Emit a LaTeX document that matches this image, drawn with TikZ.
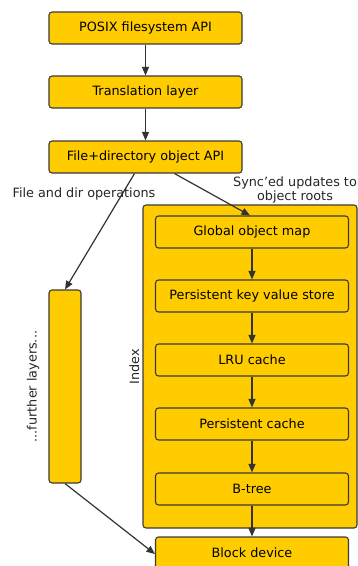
\documentclass[tikz,border=0pt]{standalone}
\usepackage{fontspec}
\setmainfont{DejaVu Sans}
\usetikzlibrary{arrows.meta}
\definecolor{boxfill}{HTML}{FFCC00}
\definecolor{boxline}{HTML}{3A3A3A}
\definecolor{linkline}{HTML}{333333}
\tikzset{
  layer/.style={draw=boxline, fill=boxfill, line width=1.1pt, rounded corners=3pt,
    minimum width=193pt, minimum height=32pt, inner sep=0pt, font=\fontsize{12.8}{15}\selectfont},
  group/.style={draw=boxline, fill=boxfill, line width=1.1pt, rounded corners=3pt, inner sep=0pt},
  link/.style={draw=linkline, line width=1.2pt, -{Triangle[length=8.5pt,width=7pt]}},
  note/.style={font=\fontsize{12.8}{14.5}\selectfont, text=black!85, inner sep=0pt}
}
\begin{document}
\begin{tikzpicture}[x=1pt,y=-1pt]
\useasboundingbox (0,0) rectangle (358,566);
\clip (0,0) rectangle (358,566);

% application-facing stack
\node[layer] (posix) at (145.5,28) {POSIX filesystem API};
\node[layer] (trans) at (145.5,92) {Translation layer};
\node[layer] (fdapi) at (145.5,157) {File+directory object API};

% index container and its internal stack
\node[group, minimum width=214pt, minimum height=323pt] (index) at (250,366.5) {};
\node[note, rotate=90, anchor=south] (indexlbl) at ([xshift=-3pt]index.west) {Index};
\node[layer] (gmap) at (252,232) {Global object map};
\node[layer] (kvs) at (252,296) {Persistent key value store};
\node[layer] (lru) at (252,360) {LRU cache};
\node[layer] (pcache) at (252,424) {Persistent cache};
\node[layer] (btree) at (252,489) {B-tree};

% other path
\node[group, minimum width=32pt, minimum height=193pt] (further) at (65,386.5) {};
\node[note, rotate=90, anchor=south] (furtherlbl) at ([xshift=-9pt]further.west) {...further layers...};

% storage
\node[layer] (block) at (252,553) {Block device};

% connectors
\draw[link] (posix) -- (trans);
\draw[link] (trans) -- (fdapi);
\coordinate (fdL) at ([xshift=-11pt]fdapi.south);
\coordinate (fdR) at ([xshift=29pt]fdapi.south);
\draw[link] (fdL) -- (further.north);
\draw[link] (fdR) -- ([xshift=-2pt]gmap.north);
\draw[link] (gmap) -- (kvs);
\draw[link] (kvs) -- (lru);
\draw[link] (lru) -- (pcache);
\draw[link] (pcache) -- (btree);
\draw[link] (btree) -- (block);
\draw[link] (further.south) -- ([yshift=-1pt]block.west);

% edge labels
\node[note] (opslbl) at (84,194) {File and dir operations};
\node[note, align=center] (synclbl) at (295,190) {Sync'ed updates to\\object roots};
\end{tikzpicture}
\end{document}
